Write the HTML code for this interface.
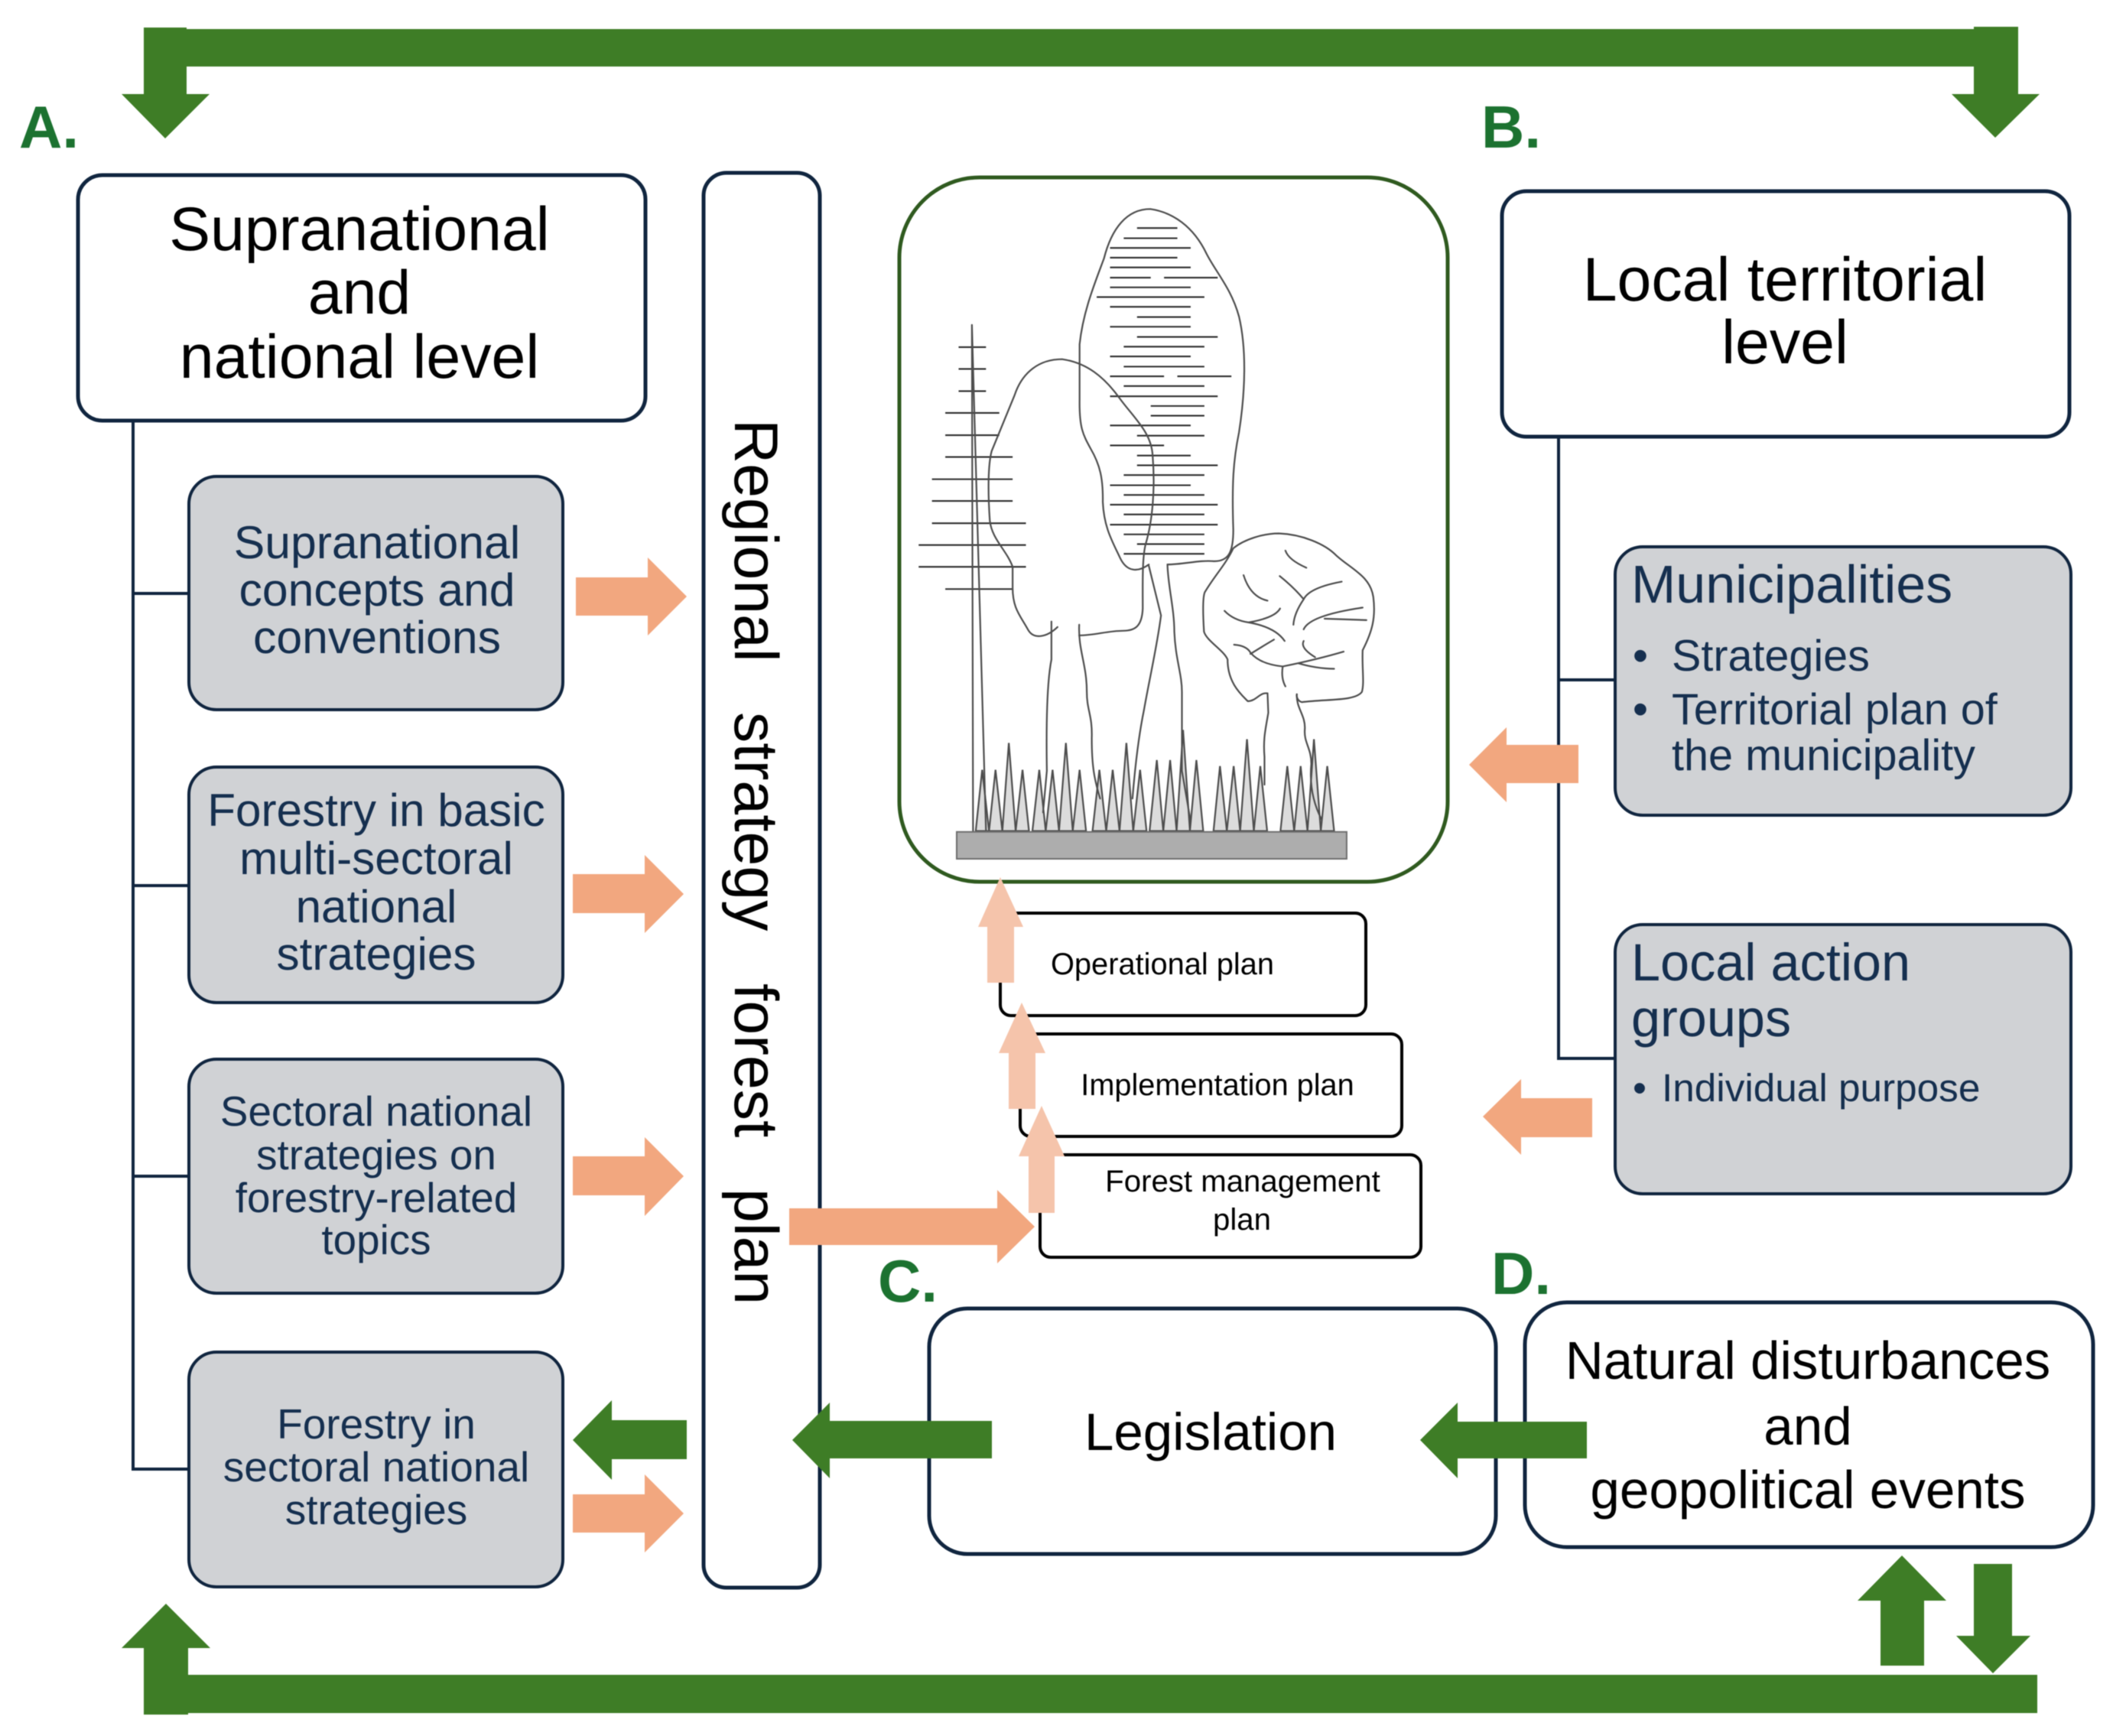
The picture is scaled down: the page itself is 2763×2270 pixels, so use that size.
<!DOCTYPE html>
<html><head><meta charset="utf-8"><style>
html,body{margin:0;padding:0;background:#fff}
svg{display:block;filter:blur(.6px)}
text{font-family:"Liberation Sans",Arial,sans-serif}
.box{fill:#fff;stroke:#10253f;stroke-width:5}
.gray{fill:#d0d2d5;stroke:#10253f;stroke-width:4}
.plan{fill:#fff;stroke:#000;stroke-width:4}
.ln{stroke:#10253f;stroke-width:4;fill:none}
.k{fill:#000;text-anchor:middle}
.n{fill:#152f4f;text-anchor:middle;font-size:60.7px}
.l{fill:#152f4f}
.lab{fill:#1c7230;font-weight:bold;font-size:78px}
.g{fill:#3e7d26}.o{fill:#f2a77f}.p{fill:#f5c4ab}
.t{fill:none;stroke:#4d4d4d;stroke-width:2.2;stroke-linejoin:round;stroke-linecap:round;vector-effect:non-scaling-stroke}
.h{stroke:#2d2d2d;stroke-width:2.1;vector-effect:non-scaling-stroke}
.gr{fill:#dcdcdc;stroke:#4d4d4d;stroke-width:2.2;stroke-linejoin:miter;vector-effect:non-scaling-stroke}
</style></head><body>
<svg width="2763" height="2270" viewBox="0 0 2763 2270" xmlns="http://www.w3.org/2000/svg">
<rect width="2763" height="2270" fill="#fff"/>

<!-- connectors -->
<path class="ln" d="M174 550V1921H247M174 776H247M174 1158H247M174 1538H247"/>
<path class="ln" d="M2038 572V1384H2111M2038 889H2111"/>

<!-- left column -->
<rect class="box" x="102" y="229" width="742" height="321" rx="32"/>
<text class="k" font-size="80.6" x="470" y="327">Supranational</text>
<text class="k" font-size="80.6" x="470" y="410">and</text>
<text class="k" font-size="80.6" x="470" y="494">national level</text>

<rect class="gray" x="247" y="623" width="489" height="305" rx="36"/>
<text class="n" x="493" y="730">Supranational</text>
<text class="n" x="493" y="792">concepts and</text>
<text class="n" x="493" y="854">conventions</text>

<rect class="gray" x="247" y="1003" width="489" height="308" rx="36"/>
<text class="n" style="font-size:60.2px" x="492" y="1080">Forestry in basic</text>
<text class="n" style="font-size:60.2px" x="492" y="1143">multi-sectoral</text>
<text class="n" style="font-size:60.2px" x="492" y="1206">national</text>
<text class="n" style="font-size:60.2px" x="492" y="1268">strategies</text>

<rect class="gray" x="247" y="1385" width="489" height="306" rx="36"/>
<text class="n" style="font-size:54.8px" x="492" y="1472">Sectoral national</text>
<text class="n" style="font-size:54.8px" x="492" y="1529">strategies on</text>
<text class="n" style="font-size:54.8px" x="492" y="1585">forestry-related</text>
<text class="n" style="font-size:54.8px" x="492" y="1640">topics</text>

<rect class="gray" x="247" y="1768" width="489" height="307" rx="36"/>
<text class="n" style="font-size:55px" x="492" y="1881">Forestry in</text>
<text class="n" style="font-size:55px" x="492" y="1937">sectoral national</text>
<text class="n" style="font-size:55px" x="492" y="1993">strategies</text>

<!-- regional strip -->
<rect class="box" x="920" y="226" width="152" height="1850" rx="30"/>
<g font-size="80.5" fill="#000">
<text transform="translate(961,548) rotate(90)">Regional</text>
<text transform="translate(961,931) rotate(90)">strategy</text>
<text transform="translate(961,1286) rotate(90)">forest</text>
<text transform="translate(961,1554) rotate(90)">plan</text>
</g>

<!-- forest picture -->
<rect x="1176" y="232" width="717" height="921" rx="105" fill="#fff" stroke="#2f5a1f" stroke-width="5"/>
<g transform="translate(1150 220) scale(.4975 .606)">
<g class="gr">
<polygon class="gr" points="253,1430 270,1298 288,1430"/><polygon class="gr" points="288,1430 305,1298 323,1430"/><polygon class="gr" points="323,1430 340,1240 358,1430"/><polygon class="gr" points="358,1430 376,1298 393,1430"/><polygon class="gr" points="402,1430 420,1298 437,1430"/><polygon class="gr" points="437,1430 455,1298 472,1430"/><polygon class="gr" points="472,1430 490,1240 508,1430"/><polygon class="gr" points="508,1430 526,1298 543,1430"/><polygon class="gr" points="560,1430 578,1298 596,1430"/><polygon class="gr" points="596,1430 613,1298 631,1430"/><polygon class="gr" points="631,1430 649,1240 667,1430"/><polygon class="gr" points="667,1430 685,1298 702,1430"/><polygon class="gr" points="710,1430 729,1277 746,1430"/><polygon class="gr" points="746,1430 764,1277 781,1430"/><polygon class="gr" points="781,1430 798,1212 816,1430"/><polygon class="gr" points="816,1430 833,1277 851,1430"/><polygon class="gr" points="878,1430 895,1290 913,1430"/><polygon class="gr" points="913,1430 931,1290 948,1430"/><polygon class="gr" points="948,1430 966,1232 984,1430"/><polygon class="gr" points="984,1430 1001,1290 1019,1430"/><polygon class="gr" points="1054,1430 1072,1290 1090,1430"/><polygon class="gr" points="1090,1430 1107,1290 1125,1430"/><polygon class="gr" points="1125,1430 1142,1232 1160,1430"/><polygon class="gr" points="1160,1430 1177,1290 1195,1430"/>
</g>
<path class="h" d="M677 129H783M642 151H783M606 172H818M606 193H783M606 214H818M606 236H713M748 236H889M606 257H818M571 278H854M606 299H818M677 321H818M606 342H818M677 364H889M642 385H854M606 406H818M642 428H854M606 449H748M783 449H925M642 470H854M606 492H889M713 513H854M713 534H854M606 555H818M677 577H854M606 598H748M677 620H818M677 641H889M642 662H854M606 684H818M642 705H854M606 726H889M642 747H854M606 769H889M642 790H854M677 811H854M642 832H854"/>
<path class="h" d="M208 386H280M208 433H280M208 481H280M173 528H315M173 576H315M173 623H350M138 671H350M138 718H350M138 766H385M103 813H385M103 860H385M173 908H350"/>
<path class="t" d="M243 338L246 1430M243 338L280 1430"/>
<path class="t" d="M708 855C680 872 650 872 632 840C612 805 590 775 587 720C588 670 580 640 555 605C535 575 525 560 526 500L526 380C535 310 565 250 590 195C610 130 650 88 712 88C770 95 825 125 860 185C885 225 925 260 945 320C965 390 962 480 945 570C930 630 926 680 930 780C930 825 920 848 880 848C840 845 800 855 757 855"/>
<path class="t" d="M708 858L740 965C730 1030 710 1100 695 1170C680 1230 672 1290 665 1360M757 855C758 900 775 950 775 1000C778 1060 795 1090 795 1130L795 1300L818 1410"/>
<path class="t" d="M468 990C440 1012 405 1018 390 995C370 965 350 950 350 905L350 860C335 825 295 800 290 760C285 700 285 640 295 610C315 570 335 530 355 490C375 440 420 412 480 412C545 420 590 450 630 495C670 540 715 570 718 620C725 690 718 760 700 810C690 840 692 900 692 950C690 990 670 998 640 998C600 998 565 1008 525 1008"/>
<path class="t" d="M452 978L452 1060C440 1110 438 1200 440 1300L430 1390M525 985C522 1040 545 1070 545 1130C545 1170 560 1180 558 1230C558 1290 565 1320 580 1360"/>
<path class="t" d="M1020 1133C1000 1130 990 1150 968 1150C950 1135 915 1110 915 1060C905 1040 860 1020 853 1000C850 960 850 925 855 915C880 880 910 855 930 820C960 800 1010 788 1050 788C1110 790 1170 810 1200 835C1240 865 1290 880 1298 925C1305 970 1295 1000 1270 1040C1268 1080 1275 1110 1268 1130C1250 1150 1180 1145 1110 1152C1100 1150 1095 1140 1097 1135"/>
<path class="t" d="M1020 1133L1022 1175C1015 1210 1008 1230 1012 1270L1012 1330M1097 1135C1095 1165 1120 1180 1118 1210C1115 1240 1135 1250 1135 1285C1130 1330 1140 1370 1162 1405"/>
<path class="t" d="M1067 825Q1075 845 1122 862M957 878Q975 925 1020 933M1052 880Q1090 905 1115 930Q1090 960 1088 985M1115 930Q1130 905 1215 892M907 955Q930 975 970 980Q1040 970 1053 950M970 980Q1040 990 1065 1020M1115 995Q1130 965 1270 948M1170 972L1280 975M932 1028Q965 1030 975 1045Q1000 1070 1060 1075Q1150 1060 1220 1043M975 1048Q1010 1030 1037 1017M1115 1020Q1105 1035 1145 1055M1100 1068Q1150 1080 1195 1080M1060 1075Q1055 1100 1067 1118"/>
<rect x="203" y="1432" width="1025" height="58" fill="#adadad" stroke="#6e6e6e" stroke-width="2" vector-effect="non-scaling-stroke"/>
</g>

<!-- plan boxes -->
<rect class="plan" x="1308" y="1194" width="478" height="134" rx="14"/>
<text class="k" font-size="39.8" x="1520" y="1274">Operational plan</text>
<rect class="plan" x="1334" y="1352" width="499" height="134" rx="14"/>
<text class="k" font-size="39.7" x="1592" y="1432">Implementation plan</text>
<rect class="plan" x="1360" y="1510" width="498" height="134" rx="14"/>
<text class="k" font-size="40.2" x="1625" y="1558">Forest management</text>
<text class="k" font-size="40.2" x="1624" y="1608">plan</text>

<!-- right column -->
<rect class="box" x="1964" y="250" width="742" height="321" rx="32"/>
<text class="k" font-size="80.6" x="2334" y="393">Local territorial</text>
<text class="k" font-size="80.6" x="2334" y="475">level</text>

<rect class="gray" x="2112" y="715" width="596" height="351" rx="36"/>
<text class="l" font-size="70" x="2133" y="788">Municipalities</text>
<text class="l" font-size="57.5" x="2145" y="877" text-anchor="middle">•</text>
<text class="l" font-size="57.5" x="2186" y="877">Strategies</text>
<text class="l" font-size="57.5" x="2145" y="947" text-anchor="middle">•</text>
<text class="l" font-size="57.6" x="2186" y="947">Territorial plan of</text>
<text class="l" font-size="57.6" x="2186" y="1007">the municipality</text>

<rect class="gray" x="2112" y="1209" width="596" height="352" rx="36"/>
<text class="l" font-size="68.4" x="2133" y="1282">Local action</text>
<text class="l" font-size="68.4" x="2133" y="1355">groups</text>
<text class="l" font-size="51.3" x="2144" y="1440" text-anchor="middle">•</text>
<text class="l" font-size="51.3" x="2173" y="1440">Individual purpose</text>

<!-- bottom boxes -->
<rect class="box" x="1215" y="1711" width="741" height="321" rx="50"/>
<text class="k" font-size="69" x="1583" y="1896">Legislation</text>
<rect class="box" x="1994" y="1703" width="743" height="320" rx="55"/>
<text class="k" font-size="69.2" x="2364" y="1803">Natural disturbances</text>
<text class="k" font-size="69.2" x="2364" y="1889">and</text>
<text class="k" font-size="69.2" x="2364" y="1972">geopolitical events</text>

<!-- labels -->
<text class="lab" x="25" y="193">A.</text>
<text class="lab" x="1937" y="193">B.</text>
<text class="lab" x="1148" y="1702">C.</text>
<text class="lab" x="1950" y="1692">D.</text>

<!-- orange arrows -->
<polygon class="o" points="753,755 847,755 847,729 898,780 847,831 847,805 753,805"/>
<polygon class="o" points="749,1143 843,1143 843,1118 894,1169 843,1220 843,1194 749,1194"/>
<polygon class="o" points="749,1512 843,1512 843,1487 894,1538 843,1590 843,1563 749,1563"/>
<polygon class="o" points="749,1954 843,1954 843,1928 894,1979 843,2030 843,2004 749,2004"/>
<polygon class="o" points="1032,1580 1304,1580 1304,1556 1353,1604 1304,1652 1304,1628 1032,1628"/>
<polygon class="o" points="2064,974 1970,974 1970,951 1921,1000 1970,1049 1970,1024 2064,1024"/>
<polygon class="o" points="2082,1436 1989,1436 1989,1411 1939,1460 1989,1510 1989,1487 2082,1487"/>

<!-- light up arrows -->
<polygon class="p" points="1291,1285 1291,1212 1279,1212 1308,1147 1338,1212 1326,1212 1326,1285"/>
<polygon class="p" points="1319,1450 1319,1377 1306,1377 1336,1311 1367,1377 1354,1377 1354,1450"/>
<polygon class="p" points="1345,1586 1345,1512 1332,1512 1362,1446 1392,1512 1379,1512 1379,1586"/>

<!-- green arrows -->
<polygon class="g" points="188,36 244,36 244,38 2581,38 2581,35 2639,35 2639,123 2667,123 2609,180 2552,123 2581,123 2581,87 244,87 244,123 274,123 216,181 159,123 188,123"/>
<polygon class="g" points="2664,2190 2664,2240 246,2240 246,2242 188,2242 188,2155 159,2155 217,2097 275,2155 246,2155 246,2190"/>
<polygon class="g" points="898,1857 800,1857 800,1831 749,1883 800,1935 800,1908 898,1908"/>
<polygon class="g" points="1297,1858 1085,1858 1085,1834 1036,1883 1085,1933 1085,1907 1297,1907"/>
<polygon class="g" points="2075,1859 1906,1859 1906,1834 1857,1883 1906,1933 1906,1907 2075,1907"/>
<polygon class="g" points="2459,2178 2459,2093 2429,2093 2487,2034 2545,2093 2516,2093 2516,2178"/>
<polygon class="g" points="2581,2045 2631,2045 2631,2139 2655,2139 2606,2188 2558,2139 2581,2139"/>
</svg>
</body></html>
